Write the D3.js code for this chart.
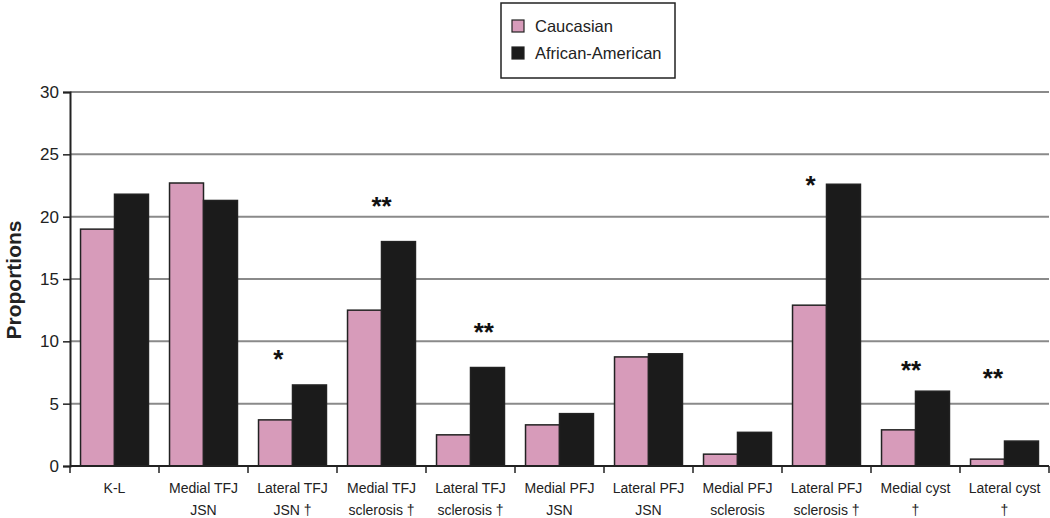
<!DOCTYPE html>
<html><head><meta charset="utf-8">
<script src="https://cdn.jsdelivr.net/npm/d3@7"></script>
<style>body{margin:0;background:#fff;} svg{display:block;font-family:"Liberation Sans",Arial,sans-serif;}</style>
</head><body>
<svg id="chart" width="1050" height="518"></svg>
<script>
const categories = [
  ["K-L",""],["Medial TFJ","JSN"],["Lateral TFJ","JSN \u2020"],["Medial TFJ","sclerosis \u2020"],
  ["Lateral TFJ","sclerosis \u2020"],["Medial PFJ","JSN"],["Lateral PFJ","JSN"],["Medial PFJ","sclerosis"],
  ["Lateral PFJ","sclerosis \u2020"],["Medial cyst","\u2020"],["Lateral cyst","\u2020"]
];
const seriesNames = ["Caucasian","African-American"];
const caucasian = [19.0,22.7,3.7,12.5,2.5,3.3,8.75,0.95,12.9,2.9,0.55];
const africanAmerican = [21.8,21.3,6.5,18.0,7.9,4.2,9.0,2.7,22.6,6.0,2.0];
const yTicks = [0,5,10,15,20,25,30];
const annotations = [
  {cat:2, text:"*",  y:8.9,  dx:-0.16},
  {cat:3, text:"**", y:21.2, dx:0.0},
  {cat:4, text:"**", y:11.1, dx:0.15},
  {cat:8, text:"*",  y:22.9, dx:-0.18},
  {cat:9, text:"**", y:8.0,  dx:-0.05},
  {cat:10,text:"**", y:7.4,  dx:-0.13}
];
const colors = ["#d79bba","#1b1b1b"];

const svg = d3.select("#chart");
const m = {left:70, right:1049, top:92, bottom:466};
const x = d3.scaleBand().domain(d3.range(categories.length)).range([m.left,m.right]).paddingInner(0).paddingOuter(0);
const inner = d3.scaleBand().domain([0,1]).range([0,x.bandwidth()]).paddingOuter(0.31).paddingInner(0);
const y = d3.scaleLinear().domain([0,30]).range([m.bottom,m.top]);

// gridlines
svg.append("g").selectAll("line").data(yTicks.filter(d=>d>0)).join("line")
  .attr("x1",m.left).attr("x2",m.right).attr("y1",d=>y(d)).attr("y2",d=>y(d))
  .attr("stroke","#8a8a8a").attr("stroke-width",2);

// bars
const data = categories.map((c,i)=>[caucasian[i],africanAmerican[i]]);
const g = svg.append("g").selectAll("g").data(data).join("g").attr("transform",(d,i)=>`translate(${x(i)},0)`);
g.selectAll("rect").data(d=>d.map((v,k)=>({v,k}))).join("rect")
  .attr("x",d=>inner(d.k)).attr("width",inner.bandwidth())
  .attr("y",d=>y(d.v)).attr("height",d=>y(0)-y(d.v))
  .attr("fill",d=>colors[d.k]).attr("stroke","#222").attr("stroke-width",1.5);

// y axis
const ya = svg.append("g").attr("transform",`translate(${m.left},0)`)
  .call(d3.axisLeft(y).tickValues(yTicks).tickSize(7).tickPadding(4));
ya.select(".domain").attr("stroke","#222").attr("stroke-width",2);
ya.selectAll(".tick line").attr("stroke","#222").attr("stroke-width",1.5);
ya.selectAll("text").attr("font-size",17).attr("fill","#222").attr("font-family","Liberation Sans, Arial, sans-serif");

// x axis
svg.append("line").attr("x1",m.left).attr("x2",m.right).attr("y1",y(0)).attr("y2",y(0)).attr("stroke","#222").attr("stroke-width",2);
svg.append("g").selectAll("line").data(d3.range(categories.length+1)).join("line")
  .attr("x1",i=>m.left+i*x.step()).attr("x2",i=>m.left+i*x.step())
  .attr("y1",y(0)).attr("y2",y(0)+7).attr("stroke","#222").attr("stroke-width",1.5);
const xl = svg.append("g").selectAll("text").data(categories).join("text")
  .attr("x",(d,i)=>x(i)+x.bandwidth()/2).attr("y",493)
  .attr("text-anchor","middle").attr("font-size",14).attr("fill","#222");
xl.append("tspan").attr("x",(d,i)=>x(i)+x.bandwidth()/2).text(d=>d[0]);
xl.append("tspan").attr("x",(d,i)=>x(i)+x.bandwidth()/2).attr("dy",22).text(d=>d[1]);

// annotations
svg.append("g").selectAll("text").data(annotations).join("text")
  .attr("x",d=>x(d.cat)+x.bandwidth()*(0.5+d.dx)).attr("y",d=>y(d.y)+13)
  .attr("text-anchor","middle").attr("font-size",26).attr("font-weight","bold").attr("fill","#111").text(d=>d.text);

// y label
svg.append("text").attr("transform","translate(21,280) rotate(-90)")
  .attr("text-anchor","middle").attr("font-size",21).attr("font-weight","bold").attr("fill","#222").text("Proportions");

// legend
const lg = svg.append("g");
lg.append("rect").attr("x",501).attr("y",3).attr("width",174).attr("height",75).attr("fill","#fff").attr("stroke","#222").attr("stroke-width",1.5);
seriesNames.forEach((s,k)=>{
  lg.append("rect").attr("x",512).attr("y",20+k*27).attr("width",12).attr("height",12).attr("fill",colors[k]).attr("stroke","#222").attr("stroke-width",1.2);
  lg.append("text").attr("x",535).attr("y",32+k*27).attr("font-size",16.5).attr("fill","#222").text(s);
});
</script>
</body></html>
